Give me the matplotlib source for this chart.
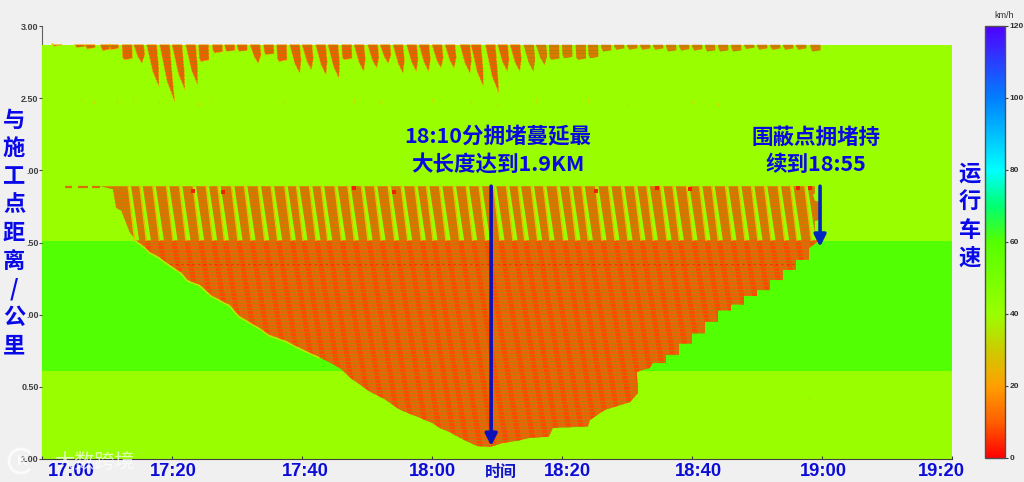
import matplotlib
matplotlib.use("Agg")
import matplotlib.pyplot as plt
from matplotlib.colors import LinearSegmentedColormap, Normalize
from matplotlib.cm import ScalarMappable
from matplotlib.patches import Polygon, PathPatch, Arc
from matplotlib.path import Path
from matplotlib.collections import LineCollection
from matplotlib.transforms import blended_transform_factory

CJK = ['Noto Sans CJK SC', 'DejaVu Sans']
BLUE = '#0a0ae0'

# ---- scales (minutes after 17:00, km from work site, km/h) ----
x_ticks = [0, 20, 40, 60, 80, 100, 120, 140]
x_labels = ['17:00', '17:20', '17:40', '18:00', '18:20', '18:40', '19:00', '19:20']
x_label_pos = [4.5, 20.2, 40.5, 60.0, 80.8, 101.0, 120.2, 138.3]
y_ticks = [3.0, 2.5, 2.0, 1.5, 1.0, 0.5, 0.0]
y_labels = ['3.00', '2.50', '.00', '.50', '.00', '0.50', '1.00']
speed_stops = [0, 10, 20, 30, 40, 60, 70, 80, 100, 120]
speed_colors = ['#ff0000', '#ff6000', '#ffa000', '#cccc00', '#99ff00', '#55ff00',
                '#00ff70', '#00ffff', '#0080ff', '#5000ff']
speed_ticks = [0, 20, 40, 60, 80, 100, 120]

field_top_km = 2.87
band_km = [0.61, 1.51]
free_speed = 40
band_speed = 60

# ---- congested zone below the work-site queue front ----
front_t = [14.6, 15.8, 16.6, 18.0, 19.7, 21.5, 22.4, 24.3, 26.2, 28.9, 30.4, 33.5, 35.0, 37.5, 39.7, 42.5,
           45.8, 47.5, 50.5, 52.5, 55.1, 58.2, 60.0, 61.2, 63.0, 64.3, 65.5, 66.9, 68.9, 70.9, 73.0, 75.1,
           78.0, 78.6, 84.0, 84.3, 86.6, 90.5, 91.7, 91.5, 93.5, 94.0, 96.0, 96.0, 98.0, 98.0, 100.0,
           100.0, 102.0, 102.0, 104.0, 104.0, 106.0, 106.0, 108.0, 108.0, 110.0, 110.0, 112.0, 112.0,
           114.0, 114.0, 116.0, 116.0, 118.0, 118.0, 119.7]
front_km = [1.51, 1.47, 1.435, 1.40, 1.344, 1.29, 1.24, 1.206, 1.13, 1.067, 0.99, 0.908, 0.86, 0.82, 0.769,
            0.71, 0.631, 0.56, 0.464, 0.42, 0.340, 0.284, 0.25, 0.215, 0.18, 0.146, 0.12, 0.090, 0.083,
            0.111, 0.125, 0.146, 0.155, 0.215, 0.225, 0.270, 0.340, 0.395, 0.457, 0.603, 0.631, 0.665,
            0.665, 0.72, 0.72, 0.80, 0.80, 0.87, 0.87, 0.95, 0.95, 1.03, 1.03, 1.07, 1.07, 1.13, 1.13,
            1.17, 1.17, 1.24, 1.24, 1.31, 1.31, 1.38, 1.38, 1.46, 1.52]

# ---- upper queue block ----
upper_t = [8.9, 10.9, 11.4, 12.2, 13.5, 14.6, 118.9, 118.9, 119.9, 119.6, 118.9, 118.6, 118.9, 118.9]
upper_km = [1.89, 1.87, 1.74, 1.72, 1.57, 1.51, 1.51, 1.65, 1.66, 1.78, 1.79, 1.83, 1.84, 1.89]
upper_dash_start = [3.5, 5.5, 7.7]
upper_dash_end = [4.6, 7.1, 8.9]

# start time of the free-flow gap at the top of the upper block (2-minute signal cycle)
gap_t = [13.3, 15.1, 17.1, 19.2, 21.2, 23.3, 25.3, 27.1, 29.2, 31.2, 33.3, 35.3, 37.4, 39.2,
         41.2, 43.0, 45.1, 47.1, 49.2, 51.2, 53.3, 55.3, 57.4, 59.2, 61.2, 63.3, 65.3, 67.3,
         69.5, 71.5, 73.3, 75.3, 77.2, 79.3, 81.2, 83.1, 85.2, 87.2, 89.2, 91.2, 93.1, 95.2,
         97.1, 99.2, 101.2, 103.1, 105.2, 107.2, 109.2, 111.2, 113.3, 115.2, 117.4]

# ---- teeth hanging from the far end of the road ----
tooth_t = [1.5, 5.0, 6.6, 9.0, 10.2, 12.3, 14.1, 16.1, 18.1, 20.0, 22.1, 24.1, 26.2, 28.1, 30.0,
           32.0, 34.1, 36.1, 38.1, 40.0, 42.1, 44.0, 46.1, 48.0, 50.1, 52.0, 54.0, 56.1, 58.0,
           60.0, 62.0, 64.3, 66.0, 68.2, 70.1, 72.0, 74.1, 76.0, 78.0, 80.0, 82.1, 84.0, 86.0,
           88.0, 90.0, 92.0, 94.0, 96.0, 98.0, 100.0, 102.0, 104.0, 106.0, 108.0, 110.0, 112.0,
           114.0, 116.0, 118.2]
tooth_km = [2.86, 2.85, 2.84, 2.83, 2.835, 2.765, 2.742, 2.581, 2.477, 2.557, 2.592, 2.754, 2.812,
            2.823, 2.823, 2.742, 2.80, 2.754, 2.673, 2.696, 2.661, 2.638, 2.765, 2.685, 2.708,
            2.742, 2.673, 2.685, 2.685, 2.708, 2.708, 2.673, 2.581, 2.534, 2.685, 2.685, 2.685,
            2.731, 2.765, 2.777, 2.765, 2.777, 2.823, 2.835, 2.835, 2.835, 2.835, 2.823, 2.83,
            2.83, 2.823, 2.823, 2.823, 2.84, 2.835, 2.835, 2.835, 2.835, 2.823]
tooth_split_t = 74

# rows of the road segment grid
row_km = [2.86, 2.835, 2.81, 2.785, 2.76, 2.735, 2.71, 2.685, 2.66, 2.635, 2.61, 2.585, 2.56, 2.535,
          2.51, 2.485, 1.88, 1.855, 1.83, 1.805, 1.78, 1.755, 1.73, 1.705, 1.68, 1.655, 1.63, 1.605,
          1.58, 1.555, 1.53, 1.505, 1.48, 1.455, 1.43, 1.405, 1.38, 1.355, 1.33, 1.305, 1.28, 1.255,
          1.23, 1.205, 1.18, 1.155, 1.13, 1.105, 1.08, 1.055, 1.03, 1.005, 0.98, 0.955, 0.93, 0.905,
          0.88, 0.855, 0.83, 0.805, 0.78, 0.755, 0.73, 0.705, 0.68, 0.655, 0.63, 0.605, 0.58, 0.555,
          0.53, 0.505, 0.48, 0.455, 0.43, 0.405, 0.38, 0.355, 0.33, 0.305, 0.28, 0.255, 0.23, 0.205,
          0.18, 0.155, 0.13, 0.105]
red_row_km = [1.35]
red_t = [23.2, 27.9, 48.0, 54.1, 85.2, 94.6, 99.7, 116.3, 118.1]
red_km = [1.86, 1.85, 1.88, 1.85, 1.86, 1.875, 1.87, 1.875, 1.875]
speck_t = [6, 8, 11.5, 14, 18, 24, 26, 37, 48, 52, 60, 66, 70, 76, 84, 90, 100, 104, 118]
speck_km = [2.49, 2.47, 2.48, 2.49, 2.47, 2.46, 2.49, 2.48, 2.48, 2.47, 2.49, 2.47, 2.45, 2.48,
            2.49, 2.46, 2.47, 2.46, 0.42]

arrow_main = (69.1, 1.89, 0.09)
arrow_side = (119.7, 1.89, 1.47)

# ---- figure ----
fig = plt.figure(figsize=(10.24, 4.82), dpi=100, facecolor='#f0f0f0')
ax = fig.add_axes([42 / 1024, 23 / 482, 910 / 1024, 433 / 482], facecolor='#f0f0f0')
ax.set_xlim(0, 140)
ax.set_ylim(0, 3)

cmap = LinearSegmentedColormap.from_list(
    'speed', [(v / 120, c) for v, c in zip(speed_stops, speed_colors)])
norm = Normalize(0, 120)

ax.axhspan(0, field_top_km, color=cmap(norm(free_speed)), lw=0, zorder=1)
ax.axhspan(band_km[0], band_km[1], color=cmap(norm(band_speed)), lw=0, zorder=1.1)
ax.scatter(speck_t, speck_km, s=5, marker='|', color='#e8c800', alpha=.55, lw=1, zorder=1.2)

# teeth: block at the top, tapering into a slanted tail
groups = {True: ([], []), False: ([], [])}
for t, d in zip(tooth_t, tooth_km):
    depth = field_top_km - d
    verts, codes = groups[t < tooth_split_t]
    if depth > 0.12:
        verts += [(t, field_top_km), (t + 1.55, field_top_km),
                  (t + 1.6 + 0.9 * depth, field_top_km - 0.55 * depth),
                  (t + 0.75 + 4.0 * depth, d),
                  (t + 0.4 + 1.9 * depth, field_top_km - 0.65 * depth),
                  (t, field_top_km)]
    else:
        verts += [(t, field_top_km), (t + 1.55, field_top_km), (t + 1.6, d + 0.01),
                  (t + 0.35, d), (t + 0.1, d + 0.02), (t, field_top_km)]
    codes += [Path.MOVETO, Path.LINETO, Path.LINETO, Path.LINETO, Path.LINETO, Path.CLOSEPOLY]
teeth_left = PathPatch(Path(*groups[True]), fc='#f25c00', ec='#eec000', lw=.4, zorder=2)
teeth_right = PathPatch(Path(*groups[False]), fc='#dc7a00', lw=0, zorder=2)
ax.add_patch(teeth_left)
ax.add_patch(teeth_right)

# congestion polygons
upper = Polygon(list(zip(upper_t, upper_km)), closed=True, fc='#e27000', lw=0, zorder=2)
ax.add_patch(upper)
lower = Polygon(list(zip(front_t, front_km)), closed=True, fc='#ec620a', lw=0, zorder=2)
ax.add_patch(lower)
ax.plot(front_t[:16], front_km[:16], color='#b4ee00', lw=2.5, zorder=1.9)

# orange-red wave stripes in the lower region
for t in gap_t:
    ln, = ax.plot([t + 1.1, t + 6.5], [1.51, 0.0], color='#ff4800', lw=3.6, zorder=2.1,
                  solid_capstyle='butt')
    ln.set_clip_path(lower)

# rows
rows = [[(0, r), (140, r)] for r in row_km]
for patch, col, a, w in ((upper, '#ad8f00', .9, .85), (lower, '#ad8800', .8, .7),
                         (teeth_left, '#ad8300', .9, .85), (teeth_right, '#b08400', .9, .85)):
    lc = LineCollection(rows, colors=col, linewidths=w, alpha=a, zorder=2.2)
    ax.add_collection(lc)
    lc.set_clip_path(patch)
for r in red_row_km:
    ln, = ax.plot([0, 140], [r, r], color='#e01000', lw=.8, ls=(0, (2, 3)), alpha=.5, zorder=2.3)
    ln.set_clip_path(lower)

ax.hlines([1.885] * 3, upper_dash_start, upper_dash_end, color='#d77000', lw=1.6, zorder=2.2)

# free-flow gaps of the upper block
for t in gap_t:
    ax.fill([t, t + 0.4, t + 1.65, t + 1.0], [1.89, 1.89, 1.515, 1.515],
            color=cmap(norm(free_speed)), lw=0, zorder=2.4)
    ax.plot([t - 0.05, t + 0.95], [1.89, 1.515], color='#e6c000', lw=1.0, zorder=2.45)
ax.scatter(red_t, red_km, s=8, marker='s', color='#f02000', lw=0, zorder=2.5)

# annotations
for (t, k0, k1), col in ((arrow_main, '#1010b8'), (arrow_side, '#0028c0')):
    ax.annotate('', xy=(t, k1), xytext=(t, k0), zorder=4, annotation_clip=False,
                arrowprops=dict(arrowstyle='-|>,head_width=.35,head_length=.7', lw=2.6, color=col,
                                shrinkA=0, shrinkB=0))
fig.text(498 / 1024, 1 - 151 / 482, '18:10分拥堵蔓延最\n大长度达到1.9KM', family=CJK, fontsize=15.5,
         fontweight='bold', color=BLUE, ha='center', va='center', linespacing=1.38, zorder=5)
fig.text(816 / 1024, 1 - 151 / 482, '围蔽点拥堵持\n续到18:55', family=CJK, fontsize=15.5,
         fontweight='bold', color=BLUE, ha='center', va='center', linespacing=1.38, zorder=5)
fig.text(14 / 1024, 1 - 233 / 482, '与\n施\n工\n点\n距\n离\n/\n公\n里', family=CJK, fontsize=16,
         fontweight='bold', color='#0808e8', ha='center', va='center', linespacing=1.29)
fig.text(970 / 1024, 1 - 216 / 482, '运\n行\n车\n速', family=CJK, fontsize=16,
         fontweight='bold', color='#0808e8', ha='center', va='center', linespacing=1.29)
fig.text(501 / 1024, 1 - 472 / 482, '时间', family=CJK, fontsize=11.5, fontweight='bold',
         color='#1018c8', ha='center', va='center')

# axes
for s in ('top', 'right'):
    ax.spines[s].set_visible(False)
ax.spines['left'].set_color('#606060')
ax.spines['left'].set_zorder(0.5)
ax.spines['bottom'].set_color('#404040')
ax.spines['bottom'].set_zorder(3)
ax.set_yticks(y_ticks)
ax.set_yticklabels(y_labels, family='Liberation Sans', fontsize=6.5, fontweight='bold', color='#404040')
ax.tick_params(axis='y', length=2, width=.8, color='#505050', pad=0.5)
ax.set_xticks(x_ticks)
ax.set_xticklabels([])
ax.tick_params(axis='x', length=2, width=.8, color='#404040', direction='in')
trans = blended_transform_factory(ax.transData, fig.transFigure)
for p, s in zip(x_label_pos, x_labels):
    ax.text(p, 1 - 471 / 482, s, transform=trans, family='Liberation Sans', fontweight='bold',
            fontsize=13.2, color='#0c0cd8', ha='center', va='center', clip_on=False, zorder=5)

# colour bar
cax = fig.add_axes([985 / 1024, 1 - 458 / 482, 20 / 1024, 432 / 482])
cb = fig.colorbar(ScalarMappable(norm, cmap), cax=cax)
cb.set_ticks(speed_ticks)
cb.ax.tick_params(labelsize=6, length=2.5, width=.8, color='#404040', labelcolor='#303030', pad=1)
for lab in cb.ax.get_yticklabels():
    lab.set_family('Liberation Sans')
    lab.set_fontweight('bold')
cb.outline.set_edgecolor('#505050')
cb.outline.set_linewidth(1)
fig.text(1004 / 1024, 1 - 15 / 482, 'km/h', family='Liberation Sans', fontsize=6.5, color='#303030',
         ha='center', va='center')

# watermark
ov = fig.add_axes([0, 0, 1, 1], facecolor='none')
ov.set_xlim(0, 1024)
ov.set_ylim(482, 0)
ov.axis('off')
ov.add_patch(Arc((21, 461), 24, 24, theta1=40, theta2=320, color='white', lw=2, alpha=.8))
ov.text(22, 461, 'K', family='Liberation Sans', fontsize=11, fontweight='bold', color='white',
        alpha=.8, ha='center', va='center')
ov.text(94, 462, '大数跨境', family=CJK, fontsize=14.5, color='white', alpha=.72,
        ha='center', va='center')

fig.savefig('out.png', dpi=100, facecolor=fig.get_facecolor())
